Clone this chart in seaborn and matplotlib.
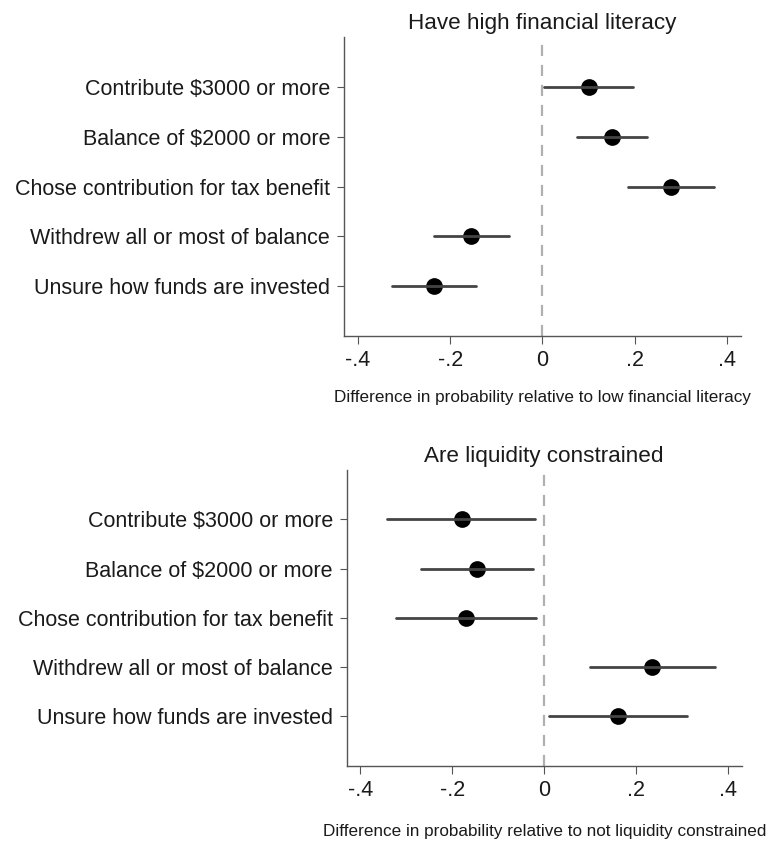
import numpy as np
import pandas as pd
import matplotlib
matplotlib.use("Agg")
import matplotlib.pyplot as plt
import seaborn as sns

outcomes = [
    "Contribute $3000 or more",
    "Balance of $2000 or more",
    "Chose contribution for tax benefit",
    "Withdrew all or most of balance",
    "Unsure how funds are invested",
]

# Financial literacy: point estimate with lower / upper confidence bounds
lit_est = [0.100, 0.150, 0.278, -0.155, -0.236]
lit_lo = [0.003, 0.074, 0.186, -0.236, -0.326]
lit_hi = [0.196, 0.227, 0.372, -0.072, -0.145]

# Liquidity constraints: point estimate with lower / upper confidence bounds
liq_est = [-0.180, -0.147, -0.171, 0.234, 0.161]
liq_lo = [-0.343, -0.269, -0.322, 0.100, 0.011]
liq_hi = [-0.020, -0.024, -0.017, 0.372, 0.311]

xticks = [-0.4, -0.2, 0.0, 0.2, 0.4]
xtick_labels = ["-.4", "-.2", "0", ".2", ".4"]

titles = ["Have high financial literacy", "Are liquidity constrained"]
xlabels = [
    "Difference in probability relative to low financial literacy",
    "Difference in probability relative to not liquidity constrained",
]

sns.set_style("ticks")
plt.rcParams["font.family"] = ["Liberation Sans", "DejaVu Sans"]
text_col = "#1a1a1a"


def long_form(est, lo, hi):
    # three values per outcome: the median is the estimate, the range is the CI
    rows = []
    for name, e, l, h in zip(outcomes, est, lo, hi):
        for v in (l, e, h):
            rows.append({"outcome": name, "value": v})
    return pd.DataFrame(rows)


fig = plt.figure(figsize=(7.71, 8.42), dpi=100)
ax_top = fig.add_axes([0.4462, 0.601, 0.5148, 0.355])
ax_bot = fig.add_axes([0.4497, 0.0906, 0.5123, 0.3512])

spine_col = "#555555"
panels = [
    (ax_top, long_form(lit_est, lit_lo, lit_hi), titles[0], xlabels[0], 14),
    (ax_bot, long_form(liq_est, liq_lo, liq_hi), titles[1], xlabels[1], 17),
]

for ax, df, title, xlabel, lpad in panels:
    ax.axvline(0, color="#b0b0b0", lw=1.6, ls=(0, (5, 4)), zorder=0)
    sns.pointplot(
        data=df, x="value", y="outcome", order=outcomes,
        estimator="median", errorbar=("pi", 100),
        linestyle="none", color="black", markers="o", markersize=10,
        err_kws={"color": "#444444", "linewidth": 2.0},
        ax=ax,
    )
    ax.set_xlim(-0.43, 0.43)
    ax.set_ylim(5, -1)
    ax.set_xticks(xticks)
    ax.set_xticklabels(xtick_labels)
    ax.set_ylabel("")
    ax.set_xlabel(xlabel, fontsize=12.3, labelpad=lpad, color=text_col)
    ax.set_title(title, fontsize=16.2, pad=6, color=text_col)
    for side in ("top", "right"):
        ax.spines[side].set_visible(False)
    for side in ("left", "bottom"):
        ax.spines[side].set_color(spine_col)
        ax.spines[side].set_linewidth(1.0)
    ax.tick_params(axis="y", length=5, color=spine_col, labelsize=15.5,
                   pad=5, labelcolor=text_col)
    ax.tick_params(axis="x", length=6, color=spine_col, labelsize=15.5,
                   pad=4, labelcolor=text_col)

fig.savefig("out.png", dpi=100, facecolor="white")
